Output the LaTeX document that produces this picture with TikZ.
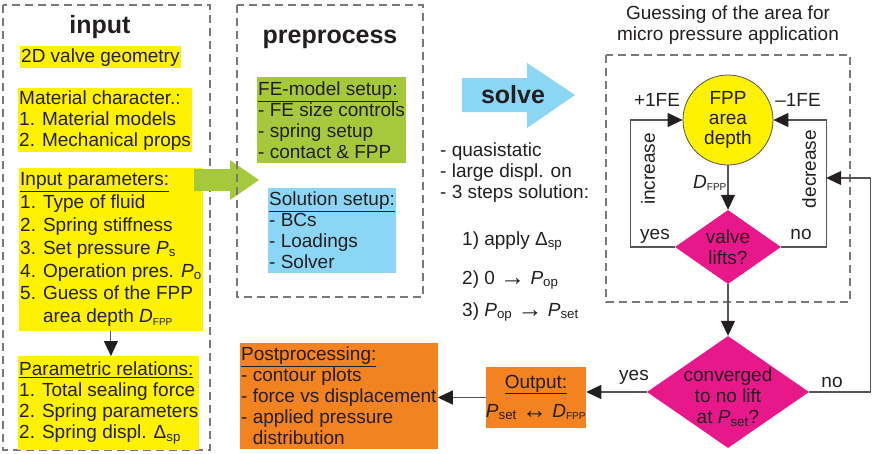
\documentclass[tikz,border=0pt]{standalone}
\usepackage{fontspec}
\setmainfont{Liberation Sans}
\usetikzlibrary{arrows.meta,positioning,shapes.geometric}
\definecolor{inkgray}{RGB}{35,31,32}
\definecolor{linegray}{RGB}{85,85,85}
\definecolor{framegray}{RGB}{120,120,120}
\definecolor{vyellow}{RGB}{255,242,0}
\definecolor{vgreen}{RGB}{165,201,58}
\definecolor{vblue}{RGB}{140,214,245}
\definecolor{vorange}{RGB}{243,130,33}
\definecolor{vpink}{RGB}{233,24,138}
\newcommand{\pvar}[2]{\textit{#1}\textsubscript{#2}}
\newcommand{\dfpp}{\textit{D}\textsubscript{\fontsize{10}{10}\selectfont FPP}}
\newcommand{\goesto}{\raisebox{-1.5pt}{\fontsize{25}{25}\selectfont\bfseries →}}
\newcommand{\bothway}{\raisebox{-1.5pt}{\fontsize{25}{25}\selectfont\bfseries ↔}}

\begin{document}
\begin{tikzpicture}[x=1pt, y=-1pt,
    font=\fontsize{19}{21}\selectfont, text=inkgray,
    frame/.style={draw=framegray, line width=1.4pt, dash pattern=on 8pt off 5pt},
    heading/.style={font=\fontsize{25}{28}\selectfont\bfseries, anchor=base},
    block/.style={anchor=north west, align=left, inner xsep=1pt, inner ysep=0pt},
    flow/.style={draw=linegray, line width=1.1pt, -{Triangle[length=15pt, width=14pt, color=inkgray]}},
    lbl/.style={anchor=base}
]
\useasboundingbox (0,0) rectangle (878,453);

% input column
\draw[frame] (3,5) rectangle (210,450);
\node[heading] (intitle) at (100,33) {input};
\node[block, fill=vyellow, minimum width=159, minimum height=22] (geom) at (20,46) {2D valve geometry};
\node[block, fill=vyellow, minimum width=171, minimum height=64] (mat) at (18,88)
  {Material character.:\\1. Material models\\2. Mechanical props};
\node[block, fill=vyellow, minimum width=178, minimum height=163, font=\fontsize{19}{22.8}\selectfont] (param) at (19,168)
  {\underline{Input parameters:}\\1. Type of fluid\\2. Spring stiffness\\3. Set pressure \pvar{P}{s}\\4. Operation pres. \pvar{P}{o}\\5. Guess of the FPP\\\phantom{5. }area depth \dfpp};
\node[block, fill=vyellow, minimum width=179, minimum height=94] (rel) at (18,356)
  {\underline{Parametric relations:}\\1. Total sealing force\\2. Spring parameters\\2. Spring displ. Δ\textsubscript{sp}};
\draw[flow] (param.south) -- (param.south |- rel.north);

\fill[vgreen] (194,169) -- (230,169) -- (230,160) -- (259,180) -- (230,200) -- (230,191) -- (194,191) -- cycle;

% preprocess column
\draw[frame] (237,5) rectangle (423,297);
\node[heading] (pretitle) at (330,43) {preprocess};
\node[block, fill=vgreen, minimum width=148, minimum height=86] (femodel) at (257,77)
  {\underline{FE-model setup:}\\- FE size controls\\- spring setup\\- contact \& FPP};
\node[block, fill=vblue, minimum width=127, minimum height=85] (solset) at (268,188)
  {\underline{Solution setup:}\\- BCs\\- Loadings\\- Solver};

% solve
\fill[vblue] (462,78) -- (527,78) -- (527,63) -- (575,95) -- (527,128) -- (527,112) -- (462,112) -- cycle;
\node[heading] (solvetitle) at (513,103) {solve};
\node[anchor=north west, align=left, inner sep=0pt] (solveopts) at (440,143)
  {- quasistatic\\- large displ. on\\- 3 steps solution:};
\node[anchor=base west, inner sep=0pt] (step1) at (462,245) {1) apply Δ\textsubscript{sp}};
\node[anchor=base west, inner sep=0pt] (step2) at (462,284) {2) 0 \goesto\ \pvar{P}{op}};
\node[anchor=base west, inner sep=0pt] (step3) at (462,316) {3) \pvar{P}{op} \goesto\ \pvar{P}{set}};

% guessing loop
\node[align=center, anchor=north, inner sep=0pt] (guesscap) at (728,6)
  {Guessing of the area for\\micro pressure application};
\draw[frame] (606,55) rectangle (850,302);
\node[circle, draw=linegray, line width=0.8pt, fill=vyellow, minimum size=90, inner sep=0pt,
  align=center, font=\fontsize{19}{20}\selectfont] (fpp) at (728,120) {FPP\\area\\depth};
\node[diamond, fill=vpink, minimum width=106, minimum height=74, shape aspect=1.4, inner sep=0pt,
  align=center] (lift) at (728,247) {valve\\lifts?};
\node[diamond, fill=vpink, minimum width=162, minimum height=112, inner sep=0pt,
  label={[align=center, yshift=-5pt]center:{converged\\to no lift\\at \pvar{P}{set}?}}] (conv) at (728,392) {};

\draw[flow] (fpp) -- (lift);
\draw[flow] (lift.west) -- ++(-44,0) |- (fpp.west);
\draw[flow] (lift.east) -- ++(45,0) coordinate (decline) |- (fpp.east);
\draw[flow] (lift) -- (conv);
\coordinate (decin) at (decline |- 0,178);
\draw[flow] (conv.east) -- ++(61,0) |- (decin);

\node[lbl] (plusfe) at (657,106) {+1FE};
\node[lbl] (minusfe) at (798,106) {\textendash 1FE};
\node[lbl] (liftyes) at (655,239) {yes};
\node[lbl] (liftno) at (801,239) {no};
\node[rotate=90] (incr) at (648,169) {increase};
\node[rotate=90] (decr) at (809,169) {decrease};
\node[anchor=base] (dlabel) at (710,188) {\dfpp};
\node[lbl] (convyes) at (634,380) {yes};
\node[lbl] (convno) at (832,387) {no};

% output
\node[fill=vorange, minimum width=100, minimum height=61, inner sep=0pt, align=center] (out) at (536,397.5)
  {\underline{Output:}\\[8pt]\pvar{P}{set} \bothway\ \dfpp};
\node[block, fill=vorange, minimum width=196, minimum height=106] (post) at (240,343)
  {\underline{Postprocessing:}\\- contour plots\\- force vs displacement\\- applied pressure\\\phantom{- }distribution};
\draw[flow] (conv.west) -- (conv.west -| out.east);
\draw[flow] (out.west) -- (out.west -| post.east);
\end{tikzpicture}
\end{document}
